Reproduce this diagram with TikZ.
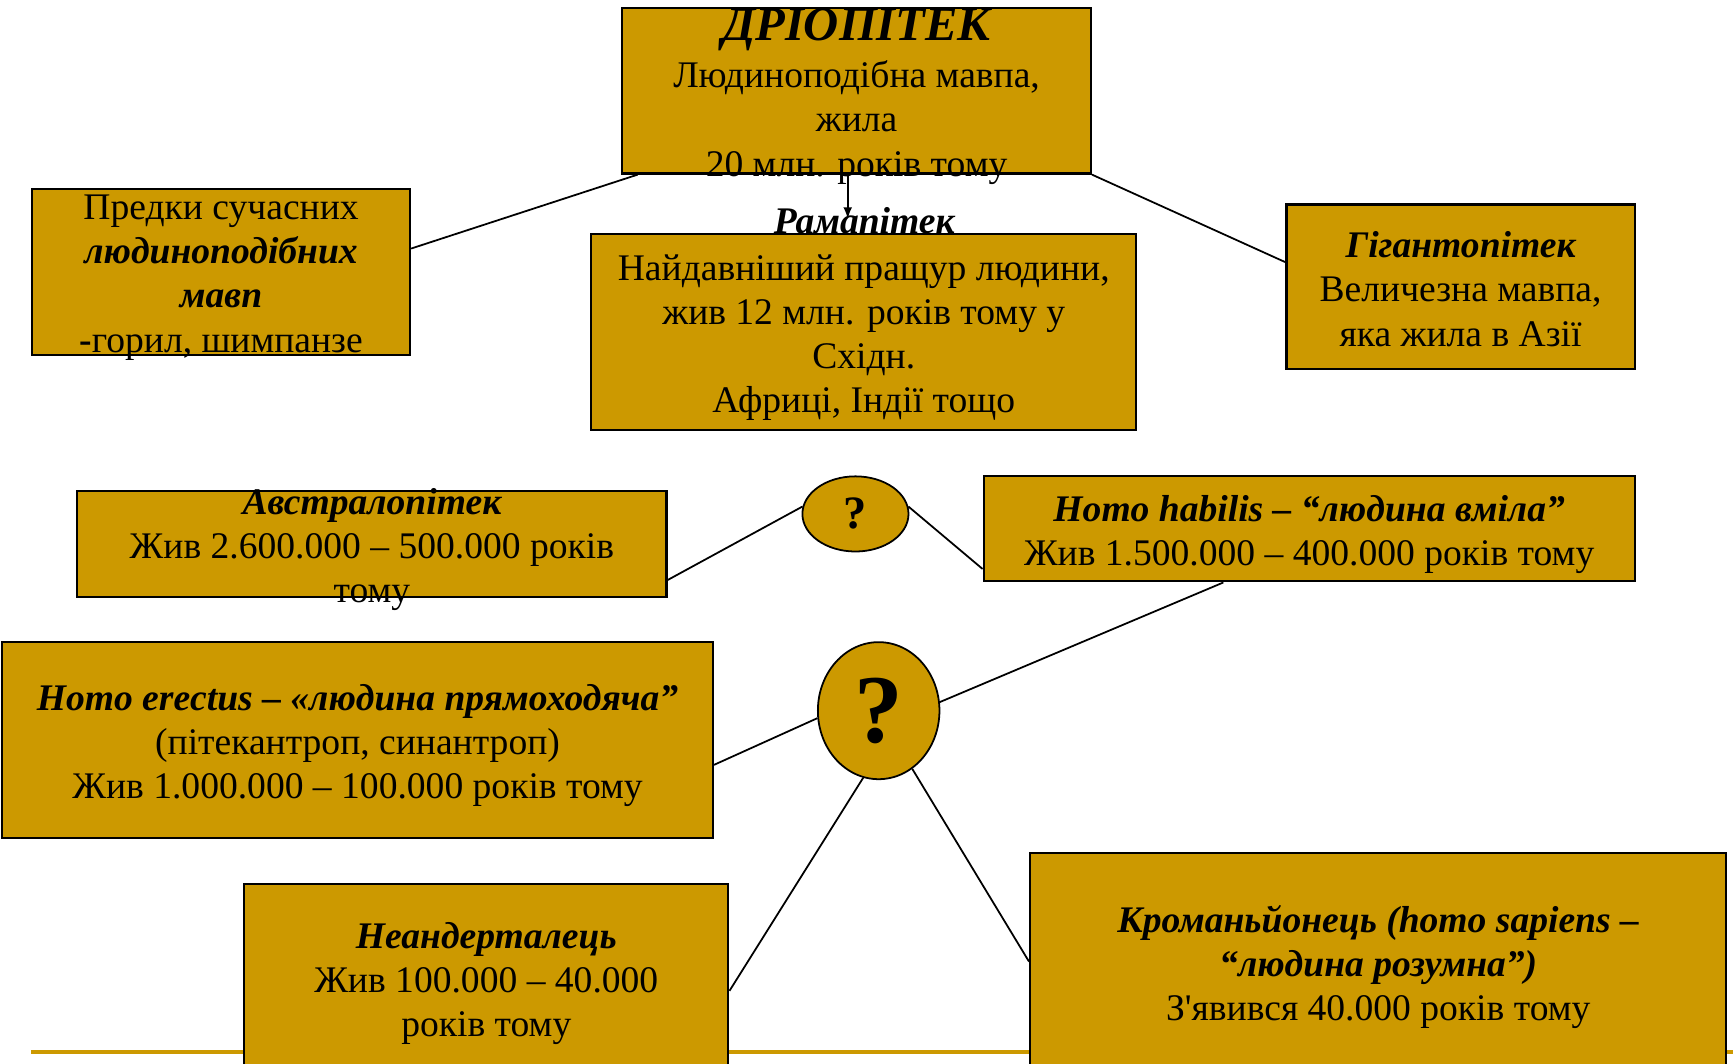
\documentclass[tikz,border=0pt]{standalone}
\usepackage{fontspec}
\setmainfont{Liberation Serif}
\usetikzlibrary{shapes.geometric}
\definecolor{ochre}{RGB}{204,153,0}
\begin{document}
\begin{tikzpicture}[x=0.5pt, y=-0.5pt, thick,
		panel/.style={rectangle, draw, fill=ochre, line width=1pt, inner sep=0pt},
		ask/.style={ellipse, draw, fill=ochre, inner sep=0pt},
		txt/.style={align=center, inner sep=0pt, yshift=-2.5pt, font=\fontsize{17}{20}\selectfont},
		hd/.style={inner sep=0pt, font=\fontsize{17}{20}\selectfont\bfseries\itshape}
		]
	\useasboundingbox (0,0) rectangle (1568,962);
	\draw [ochre, line width=2pt] (28,952) -- (1568,952);
	\node [panel, minimum width=212pt, minimum height=75pt,
		label={[txt]center:{{\fontsize{22}{24}\selectfont\bfseries\itshape ДРІОПІТЕК}\\[1.5pt] Людиноподібна мавпа,\\ жила\\ 20 млн. років тому}}] (dryo) at (775,82) {};
	\node [panel, minimum width=171pt, minimum height=75pt,
		label={[txt]center:{Предки сучасних\\ {\bfseries\itshape людиноподібних}\\ {\bfseries\itshape мавп}\\ {\bfseries -}горил, шимпанзе}}] (predky) at (200,246) {};
	\node [hd] (ramaname) at (782,200) {Рамапітек};
	\node [panel, minimum width=246.5pt, minimum height=88.5pt,
		label={[txt]center:{Найдавніший пращур людини,\\ жив 12 млн. років тому у\\ Східн.\\ Африці, Індії тощо}}] (rama) at (781.5,300.5) {};
	\node [panel, minimum width=157.5pt, minimum height=74.5pt,
		label={[txt, yshift=1.5pt]center:{{\bfseries\itshape Гігантопітек}\\ Величезна мавпа,\\ яка жила в Азії}}] (giganto) at (1321.5,259.5) {};
	\node [panel, minimum width=266.5pt, minimum height=48pt,
		label={[txt]center:{{\bfseries\itshape Австралопітек}\\ Жив 2.600.000 – 500.000 років\\ тому}}] (austral) at (336.5,492) {};
	\node [ask, minimum width=48pt, minimum height=34pt, font=\fontsize{21}{24}\selectfont\bfseries] (q1) at (774,465) {?};
	\node [panel, minimum width=294.5pt, minimum height=47.5pt,
		label={[txt]center:{{\bfseries\itshape Homo habilis – “людина вміла”}\\ Жив 1.500.000 – 400.000 років тому}}] (habilis) at (1184.5,478.5) {};
	\node [ask, minimum width=55pt, minimum height=62pt, font=\fontsize{44}{48}\selectfont\bfseries] (q2) at (795,643) {?};
	\node [panel, minimum width=321.5pt, minimum height=88.5pt,
		label={[txt]center:{{\bfseries\itshape Homo erectus – «людина прямоходяча”}\\ (пітекантроп, синантроп)\\ Жив 1.000.000 – 100.000 років тому}}] (erectus) at (323.5,669.5) {};
	\node [panel, minimum width=219pt, minimum height=85pt,
		label={[txt]center:{{\bfseries\itshape Неандерталець}\\ Жив 100.000 – 40.000\\ років тому}}] (neander) at (440,885) {};
	\node [panel, minimum width=315pt, minimum height=98pt,
		label={[txt]center:{{\bfseries\itshape Кроманьйонець (homo sapiens –}\\ {\bfseries\itshape “людина розумна”)}\\ З\textquotesingle явився 40.000 років тому}}] (cro) at (1247,870) {};
	\draw (dryo.201) -- (predky.7);
	\draw (dryo.south east) -- (giganto.172);
	\draw [-latex] ([xshift=-4pt]dryo.south) -- ([xshift=-7.5pt,yshift=1pt]ramaname.center);
	\draw (austral.-7) -- (q1.172);
	\draw (q1.8) -- (habilis.187);
	\draw (habilis.212) -- (q2.8);
	\draw (erectus.-4) -- (q2.187);
	\draw (q2.257) -- (neander.-3);
	\draw (q2.-60) -- (cro.west);
\end{tikzpicture}
\end{document}
